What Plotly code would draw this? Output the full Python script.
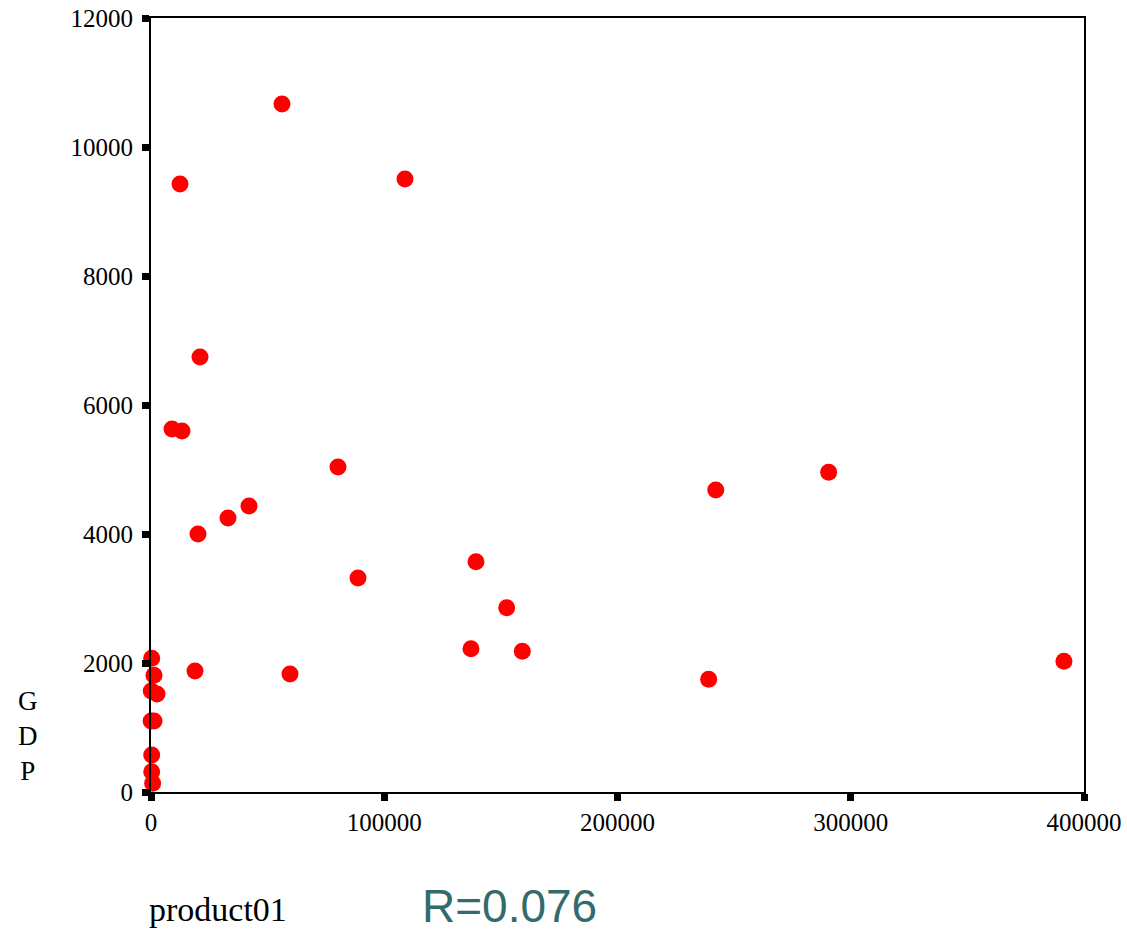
import plotly.graph_objects as go

# Data
product01 = [56160, 12430, 108890, 21010, 9000, 13290, 80170, 42010, 33010, 20150,
             242130, 290530, 139330, 88740, 152490, 137180, 159180, 18860, 59590,
             239090, 391400,
             300, 1290, 100, 2570, 50, 1290, 300, 300, 700]
gdp = [10667, 9426, 9504, 6744, 5628, 5597, 5039, 4434, 4248, 4000,
       4682, 4957, 3571, 3318, 2857, 2222, 2181, 1876, 1829,
       1747, 2026,
       2073, 1810, 1566, 1519, 1101, 1101, 574, 315, 135]

x_ticks = [0, 100000, 200000, 300000, 400000]
y_ticks = [0, 2000, 4000, 6000, 8000, 10000, 12000]
x_label = "product01"
y_label = "G<br>D<br>P"
r_text = "R=0.076"

W, H = 1127, 934
L, T, R, B = 151, 18, 1127 - 1084, 934 - 792
pw, ph = W - L - R, H - T - B

def px(x):
    return (x - L) / pw

def py(y):
    return (H - B - y) / ph

serif = "Liberation Serif, DejaVu Serif, serif"

fig = go.Figure()
fig.add_trace(go.Scatter(
    x=product01, y=gdp, mode="markers",
    marker=dict(color="#ff0000", size=17, line=dict(width=0)),
    cliponaxis=False, showlegend=False,
))

axis_common = dict(
    showgrid=False, zeroline=False, showline=True, linecolor="black", linewidth=2,
    mirror=True, ticks="outside", ticklen=7, tickwidth=7, tickcolor="black",
    tickfont=dict(family=serif, size=25, color="black"), automargin=False,
    ticklabeloverflow="allow",
)

fig.update_xaxes(range=[0, 400000], tickvals=x_ticks, ticktext=[str(v) for v in x_ticks],
                 **axis_common)
fig.update_yaxes(range=[0, 12000], tickvals=y_ticks, ticktext=[str(v) for v in y_ticks],
                 ticklabelstandoff=4, **axis_common)

fig.add_annotation(text=x_label, xref="paper", yref="paper", x=px(147), y=py(909),
                   xanchor="left", yanchor="middle", showarrow=False,
                   font=dict(family=serif, size=34, color="black"))
fig.add_annotation(text=y_label, xref="paper", yref="paper", x=px(28), y=py(736),
                   xanchor="center", yanchor="middle", showarrow=False, align="center",
                   font=dict(family=serif, size=27, color="black"))
fig.add_annotation(text=r_text, xref="paper", yref="paper", x=px(509), y=py(906),
                   xanchor="center", yanchor="middle", showarrow=False,
                   font=dict(family="Liberation Sans, Arial, sans-serif", size=46,
                             color="#336b6b"))

fig.update_layout(
    width=W, height=H, margin=dict(l=L, r=R, t=T, b=B, autoexpand=False),
    paper_bgcolor="white", plot_bgcolor="white", hovermode=False,
)

fig.write_html("out.html", config={"displayModeBar": False},
               post_script="document.body.style.margin='0';document.body.style.overflow='hidden';")
